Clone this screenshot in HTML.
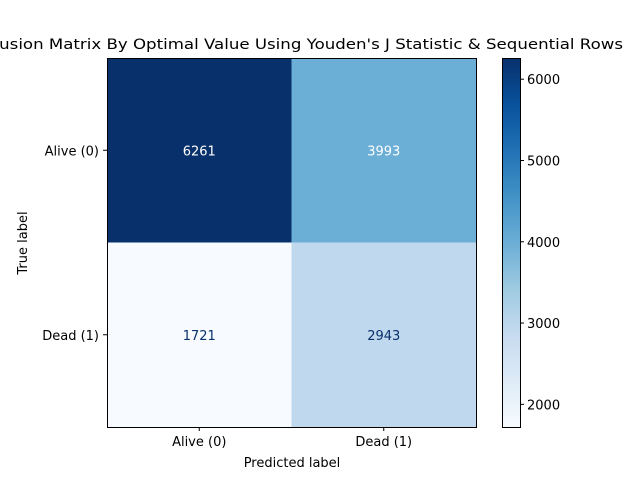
<!DOCTYPE html>
<html><head><meta charset="utf-8"><style>
body{margin:0;background:#fff;}
svg{display:block;font-family:"DejaVu Sans","Liberation Sans",sans-serif;}
</style></head><body>
<svg id="c" width="640" height="480" viewBox="0 0 640 480">
<defs><linearGradient id="blues" x1="0" y1="1" x2="0" y2="0">
<stop offset="0" stop-color="#f7fbff"/><stop offset="0.125" stop-color="#deebf7"/><stop offset="0.25" stop-color="#c6dbef"/><stop offset="0.375" stop-color="#9ecae1"/><stop offset="0.5" stop-color="#6baed6"/><stop offset="0.625" stop-color="#4292c6"/><stop offset="0.75" stop-color="#2171b5"/><stop offset="0.875" stop-color="#08519c"/><stop offset="1" stop-color="#08306b"/></linearGradient></defs>
<text x="292" y="49" text-anchor="middle" font-size="14.5" textLength="662" lengthAdjust="spacingAndGlyphs">Confusion Matrix By Optimal Value Using Youden's J Statistic &amp; Sequential Rows</text>
<g id="cells"></g>
<rect x="107.5" y="58.5" width="369" height="369" fill="none" stroke="#000" stroke-width="1"/>
<text x="292" y="467" text-anchor="middle" font-size="13">Predicted label</text>
<text transform="translate(27,243) rotate(-90)" text-anchor="middle" font-size="13">True label</text>
<rect x="502" y="58" width="18" height="369" fill="url(#blues)"/>
<rect x="502.5" y="58.5" width="18" height="369" fill="none" stroke="#000" stroke-width="1"/>
<g id="cbticks"></g>
</svg>
<script>
const trueLabels = ["Alive (0)", "Dead (1)"];
const predLabels = ["Alive (0)", "Dead (1)"];
const counts = [[6261, 3993], [1721, 2943]];
const cbTicks = [2000, 3000, 4000, 5000, 6000];
const NS = "http://www.w3.org/2000/svg";
const X0 = 107, Y0 = 58, S = 369, CB_X = 502, CB_W = 18;
const flat = counts.flat();
const vmin = Math.min(...flat), vmax = Math.max(...flat);
const stops = ["#f7fbff","#deebf7","#c6dbef","#9ecae1","#6baed6","#4292c6","#2171b5","#08519c","#08306b"];
function hex(h){return [1,3,5].map(i=>parseInt(h.substr(i,2),16));}
function color(v){
  let t = (v - vmin) / (vmax - vmin); t = Math.max(0, Math.min(1, t));
  const p = t * (stops.length - 1), i = Math.min(Math.floor(p), stops.length - 2), f = p - i;
  const a = hex(stops[i]), b = hex(stops[i+1]);
  return "rgb(" + a.map((c,k)=>Math.round(c + (b[k]-c)*f)).join(",") + ")";
}
function el(tag, attrs, parent, txt){const e=document.createElementNS(NS,tag);for(const k in attrs)e.setAttribute(k,attrs[k]);if(txt!==undefined)e.textContent=txt;parent.appendChild(e);return e;}
const svg = document.getElementById("c"), cells = document.getElementById("cells");
const nR = trueLabels.length, nC = predLabels.length, cw = S / nC, ch = S / nR;
for (let r = 0; r < nR; r++) for (let c = 0; c < nC; c++) {
  const v = counts[r][c];
  const rc = el("rect", {x: X0 + c*cw, y: Y0 + r*ch, width: cw + 0.5, height: ch + 0.5, fill: color(v)}, cells);
  
  
  const t = (v - vmin) / (vmax - vmin);
  const tx = el("text", {x: X0 + c*cw + cw/2, y: Y0 + r*ch + ch/2 + 5, "text-anchor": "middle", "font-size": 13, fill: t > 0.4 ? "#ffffff" : "#08306b"}, cells, String(v));
  
  
}
predLabels.forEach((l, i) => {
  const x = X0 + i*cw + cw/2;
  const tk = el("line", {x1: x, x2: x, y1: 427, y2: 431, stroke: "#000"}, svg);
  
  
  const tl = el("text", {x: x, y: 446, "text-anchor": "middle", "font-size": 13}, svg, l);
  
  
});
trueLabels.forEach((l, i) => {
  const y = Y0 + i*ch + ch/2;
  const tk = el("line", {x1: 103, x2: 107, y1: y, y2: y, stroke: "#000"}, svg);
  
  
  const tl = el("text", {x: 99, y: y + 5, "text-anchor": "end", "font-size": 13}, svg, l);
  
  
});
const cbg = document.getElementById("cbticks");
cbTicks.forEach(v => {
  const y = Y0 + S - (v - vmin) / (vmax - vmin) * S;
  const tk = el("line", {x1: CB_X + CB_W, x2: CB_X + CB_W + 4, y1: y, y2: y, stroke: "#000"}, cbg);
  
  
  const tl = el("text", {x: CB_X + CB_W + 7, y: y + 5, "font-size": 13}, cbg, String(v));
  
  
});
</script>
</body></html>
